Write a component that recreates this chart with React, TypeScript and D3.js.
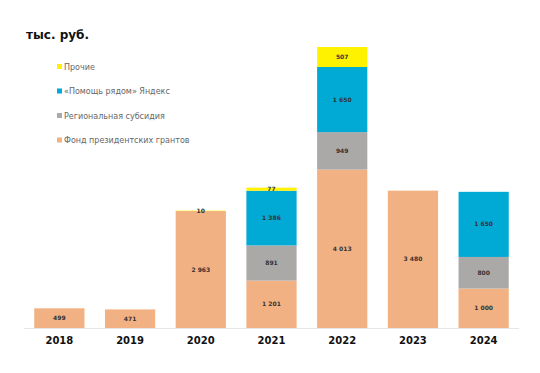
import React from 'react';
import * as d3 from 'd3';

const years = ['2018', '2019', '2020', '2021', '2022', '2023', '2024'];
const fund = [499, 471, 2963, 1201, 4013, 3480, 1000];
const regional = [0, 0, 0, 891, 949, 0, 800];
const yandex = [0, 0, 0, 1386, 1650, 0, 1650];
const other = [0, 0, 10, 77, 507, 0, 0];

const seriesKeys = ['fund', 'regional', 'yandex', 'other'];
const seriesNames = ['Фонд президентских грантов', 'Региональная субсидия', '«Помощь рядом» Яндекс', 'Прочие'];
const seriesColors = ['#F2B183', '#ABA8A8', '#00AAD4', '#FFF200'];

const fmt = (v: number) => d3.format(',')(v).replace(/,/g, ' ');

const App: React.FC = () => {
  const width = 540;
  const height = 373;
  const baseline = 328;

  const rows = years.map((y, i) => ({
    year: y,
    fund: fund[i],
    regional: regional[i],
    yandex: yandex[i],
    other: other[i],
  }));

  const stack = d3.stack<any>().keys(seriesKeys)(rows);

  const x = d3.scaleBand<string>().domain(years).range([24, 519]).paddingInner(0.29).paddingOuter(0.145);
  const y = d3.scaleLinear().domain([0, 7119]).range([baseline, 47]);

  const font = '"DejaVu Sans", sans-serif';

  return (
    <svg width={width} height={height} style={{ position: 'absolute', left: 0, top: 0 }}>
      <rect width={width} height={height} fill="#fff" />
      <text x={26} y={39} fontFamily={font} fontWeight="bold" fontSize={12} fill="#111">тыс. руб.</text>

      {/* legend, drawn top-down in reverse order */}
      {seriesNames.slice().reverse().map((name, i) => {
        const ci = seriesNames.length - 1 - i;
        const ly = 67 + i * 24.5;
        return (
          <g key={name}>
            <rect x={57} y={ly - 3} width={5} height={5} fill={seriesColors[ci]} />
            <text x={64} y={ly + 2.5} fontFamily={font} fontSize={8} fill="#666">{name}</text>
          </g>
        );
      })}

      <line x1={24} x2={519} y1={baseline + 0.5} y2={baseline + 0.5} stroke="#e6e6e6" />

      {stack.map((s, si) => (
        <g key={seriesKeys[si]}>
          {s.map((d, i) => {
            const v = d[1] - d[0];
            if (v <= 0) return null;
            const x0 = x(years[i])!;
            const top = y(d[1]);
            const h = y(d[0]) - y(d[1]);
            return (
              <g key={i}>
                <rect x={x0} y={top} width={x.bandwidth()} height={h} fill={seriesColors[si]} />
                <text
                  x={x0 + x.bandwidth() / 2}
                  y={top + h / 2 + 2}
                  textAnchor="middle"
                  fontFamily={font}
                  fontSize={6}
                  fontWeight="bold"
                  fill="#333"
                >{fmt(v)}</text>
              </g>
            );
          })}
        </g>
      ))}

      {years.map((yr) => (
        <text
          key={yr}
          x={x(yr)! + x.bandwidth() / 2}
          y={344}
          textAnchor="middle"
          fontFamily={font}
          fontWeight="bold"
          fontSize={10}
          fill="#111"
        >{yr}</text>
      ))}
    </svg>
  );
};

export default App;
